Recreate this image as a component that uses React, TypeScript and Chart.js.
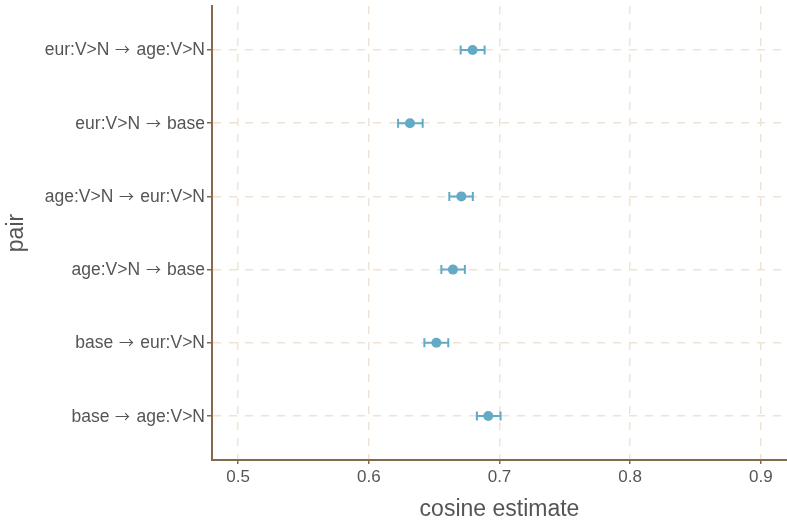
import React, { useEffect, useRef } from "react";
import { Chart, registerables } from "chart.js";

Chart.register(...registerables);

const pairs = [
  "base → age:V>N",
  "base → eur:V>N",
  "age:V>N → base",
  "age:V>N → eur:V>N",
  "eur:V>N → base",
  "eur:V>N → age:V>N",
];
const positions = [1, 2, 3, 4, 5, 6];
const estimate = [0.6914, 0.6517, 0.6644, 0.6708, 0.6315, 0.6794];
const lower = [0.6827, 0.6425, 0.6555, 0.6616, 0.6224, 0.6703];
const upper = [0.7008, 0.6608, 0.6735, 0.6796, 0.6412, 0.6886];
const xTicks = [0.5, 0.6, 0.7, 0.8, 0.9];

const FONT = "'Liberation Sans', Arial, Helvetica, sans-serif";
const FONT_Y = "ArrowSans, 'Liberation Sans', Arial, Helvetica, sans-serif";
const TEXT = "#555555";
const AXIS = "#86694a";
const GRID = "#efe3d6";
const POINT = "#62aac5";

const errorBars = {
  id: "errorBars",
  afterDatasetsDraw(chart: any) {
    const { ctx, scales } = chart;
    const xs = scales.x;
    const ys = scales.y;
    ctx.save();
    ctx.strokeStyle = POINT;
    ctx.lineWidth = 2;
    positions.forEach((p, i) => {
      const y = ys.getPixelForValue(p);
      const x1 = xs.getPixelForValue(lower[i]);
      const x2 = xs.getPixelForValue(upper[i]);
      ctx.beginPath();
      ctx.moveTo(x1, y);
      ctx.lineTo(x2, y);
      ctx.moveTo(x1, y - 4.5);
      ctx.lineTo(x1, y + 4.5);
      ctx.moveTo(x2, y - 4.5);
      ctx.lineTo(x2, y + 4.5);
      ctx.stroke();
    });
    ctx.restore();
  },
};

const zeroPad = (s: any) => {
  s.paddingTop = 0;
  s.paddingBottom = 0;
  s.paddingLeft = 0;
  s.paddingRight = 0;
};

export default function App() {
  const ref = useRef<HTMLCanvasElement>(null);
  useEffect(() => {
    document.body.style.margin = "0";
    const style = document.createElement("style");
    style.textContent =
      "@font-face{font-family:'ArrowSans';src:local('Noto Sans CJK JP'),local('Noto Sans CJK JP Regular'),local('NotoSansCJKjp-Regular'),local('NotoSansCJKJP-Regular');unicode-range:U+2192;size-adjust:86%;}" +
      "@font-face{font-family:'ArrowSans';src:local('Liberation Sans'),local('LiberationSans');unicode-range:U+0020;size-adjust:115%;}";
    document.head.appendChild(style);
    let chart: Chart | null = null;
    let cancelled = false;
    const make = () => {
      if (cancelled || !ref.current) return;
      chart = new Chart(ref.current, {
        type: "scatter",
        data: {
          datasets: [
            {
              data: positions.map((p, i) => ({ x: estimate[i], y: p })),
              backgroundColor: POINT,
              borderColor: POINT,
              pointRadius: 5,
              borderWidth: 0,
            },
          ],
        },
        options: {
          animation: false,
          responsive: false,
          maintainAspectRatio: false,
          layout: { autoPadding: false, padding: { top: 6, right: 0, left: 0, bottom: 0 } },
          plugins: { legend: { display: false }, tooltip: { enabled: false } },
          scales: {
            x: {
              type: "linear",
              min: 0.48,
              max: 0.92,
              afterBuildTicks: (s: any) => {
                s.ticks = xTicks.map((v) => ({ value: v }));
              },
              afterFit: (s: any) => {
                s.height = 61;
                zeroPad(s);
              },
              grid: {
                color: GRID,
                lineWidth: 1.5,
                tickColor: AXIS,
                tickLength: 4,
                tickWidth: 1.5,
                tickBorderDash: [],
              },
              border: { color: AXIS, width: 2, dash: [8, 8] },
              ticks: {
                color: TEXT,
                font: { family: FONT, size: 17 },
                padding: 3,
                maxRotation: 0,
                callback: (v: any) => String(v),
              },
              title: {
                display: true,
                text: "cosine estimate",
                color: TEXT,
                font: { family: FONT, size: 23, lineHeight: 1 },
                padding: { top: 0, bottom: 0 },
              },
            },
            y: {
              type: "linear",
              min: 0.4,
              max: 6.6,
              afterBuildTicks: (s: any) => {
                s.ticks = positions.map((v) => ({ value: v }));
              },
              afterFit: (s: any) => {
                s.width = 212;
                zeroPad(s);
              },
              grid: {
                color: GRID,
                lineWidth: 1.5,
                tickColor: AXIS,
                tickLength: 5,
                tickWidth: 1.5,
                tickBorderDash: [],
              },
              border: { color: AXIS, width: 2, dash: [8, 8] },
              ticks: {
                color: TEXT,
                font: { family: FONT_Y, size: 17.5 },
                padding: 2,
                callback: (v: any) => pairs[positions.indexOf(v)] ?? "",
              },
              title: {
                display: true,
                text: "pair",
                color: TEXT,
                font: { family: FONT, size: 23, lineHeight: 1 },
                padding: { top: 5, bottom: 0 },
              },
            },
          },
        },
        plugins: [errorBars],
      });
    };
    Promise.all([
      document.fonts.load("17px ArrowSans", "→ ").catch(() => null),
      document.fonts.load("17px 'Liberation Sans'").catch(() => null),
    ]).then(make, make);
    return () => {
      cancelled = true;
      if (chart) chart.destroy();
      style.remove();
    };
  }, []);
  return (
    <div style={{ width: 787, height: 521 }}>
      <canvas ref={ref} width={787} height={521} />
    </div>
  );
}
